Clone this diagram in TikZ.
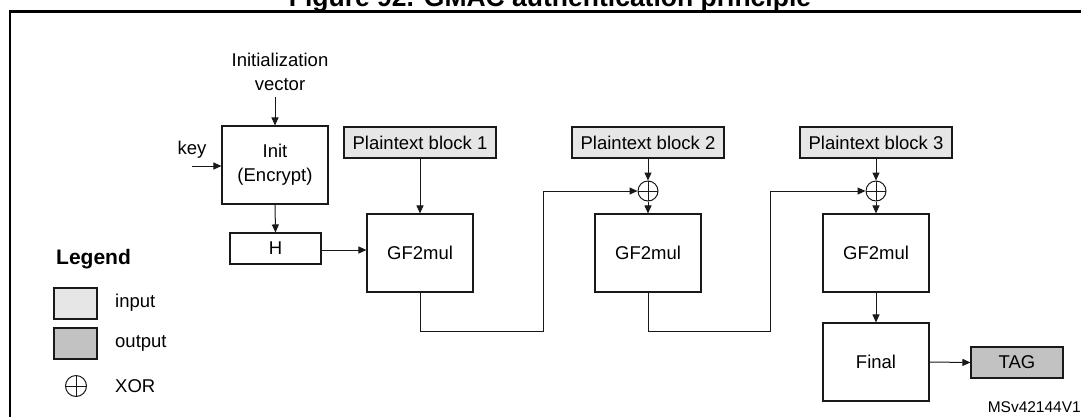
\documentclass[tikz,border=0pt]{standalone}
\usepackage{fontspec}
\setmainfont{Liberation Sans}
\usetikzlibrary{arrows.meta,calc}
\newcommand\dgtxt{\fontsize{18.5}{24}\selectfont}
\definecolor{ingray}{RGB}{230,230,230}
\definecolor{outgray}{RGB}{194,194,194}
\definecolor{ln}{RGB}{25,25,25}
\tikzset{
  blk/.style={draw=ln, line width=1.1pt, minimum width=106pt, minimum height=78pt, inner sep=0pt, align=center, font=\dgtxt},
  hbox/.style={draw=ln, line width=1.1pt, minimum width=91pt, minimum height=31pt, inner sep=0pt, font=\dgtxt},
  inbox/.style={draw=ln, line width=1.1pt, fill=ingray, minimum width=152pt, minimum height=31pt, inner sep=0pt, font=\dgtxt},
  outbox/.style={draw=ln, line width=1.1pt, fill=outgray, minimum width=92pt, minimum height=31pt, inner sep=0pt, font=\dgtxt},
  swatch/.style={draw=ln, line width=1.1pt, minimum width=43pt, minimum height=31pt, inner sep=0pt},
  xor/.style={circle, draw=ln, line width=1pt, minimum size=20pt, inner sep=0pt,
    path picture={\draw[ln, line width=1pt] (path picture bounding box.north) -- (path picture bounding box.south)
      (path picture bounding box.west) -- (path picture bounding box.east);}},
  lbl/.style={inner sep=0pt, font=\dgtxt},
  arr/.style={draw=ln, line width=1pt, -{Triangle[length=8pt,width=7pt]}},
  con/.style={draw=ln, line width=1pt}
}
\begin{document}
\begin{tikzpicture}[x=1pt,y=-1pt]
\useasboundingbox (0,0) rectangle (1081,416);
% frame and title
\draw[line width=2.2pt, black] (10,430) -- (10,11.5) -- (1095,11.5);
\node[anchor=base, inner sep=0pt, font=\bfseries\fontsize{26.5}{30}\selectfont] (title) at (550,6) {Figure 92. GMAC authentication principle};
% inputs
\node[lbl, align=center] (iv) at (280,72) {Initialization\\vector};
\node[lbl] (key) at (192,150) {key};
\coordinate (keyin) at (192,166);
\node[blk] (init) at (275,165) {Init\\(Encrypt)};
\node[hbox] (h) at (275.5,248.5) {H};
\node[inbox] (pb1) at (420,142.5) {Plaintext block 1};
\node[inbox] (pb2) at (648,142.5) {Plaintext block 2};
\node[inbox] (pb3) at (876,142.5) {Plaintext block 3};
\node[xor] (x2) at (648,191) {};
\node[xor] (x3) at (876,191) {};
\node[blk] (gf1) at (420,253) {GF2mul};
\node[blk] (gf2) at (648,253) {GF2mul};
\node[blk] (gf3) at (876,253) {GF2mul};
\node[blk] (final) at (876,362) {Final};
\node[outbox] (tag) at (1017,362.5) {TAG};
\coordinate (c1) at (543,331);
\coordinate (c2) at (770,331);
% connectors
\draw[arr] (init.north |- 0,97) -- (init.north);
\draw[arr] (keyin) -- (keyin -| init.west);
\draw[arr] (init.south) -- (h.north);
\draw[arr] (h.east |- 0,250) -- (gf1.west |- 0,250);
\draw[arr] (pb1.south) -- (gf1.north);
\draw[arr] (gf1.south) |- (c1) |- (x2.west);
\draw[arr] (pb2.south) -- (x2.north);
\draw[arr] (x2.south) -- (gf2.north);
\draw[arr] (gf2.south) |- (c2) |- (x3.west);
\draw[arr] (pb3.south) -- (x3.north);
\draw[arr] (x3.south) -- (gf3.north);
\draw[arr] (gf3.south) -- (final.north);
\draw[arr] (final.east) -- (tag.west);
% legend
\node[anchor=west, inner sep=0pt, font=\bfseries\fontsize{21}{24}\selectfont] (legend) at (56,259) {Legend};
\node[swatch, fill=ingray] (sin) at (75.5,303.5) {};
\node[swatch, fill=outgray] (sout) at (75.5,343.5) {};
\node[xor, minimum size=21pt] (sxor) at (76,386) {};
\node[lbl, anchor=west] (tin) at (115,303) {input};
\node[lbl, anchor=west] (tout) at (115,343) {output};
\node[lbl, anchor=west] (txor) at (115,386) {XOR};
% id
\node[anchor=base east, inner sep=0pt, font=\fontsize{15.5}{18}\selectfont] (id) at (1081,412) {MSv42144V1};
\end{tikzpicture}
\end{document}
